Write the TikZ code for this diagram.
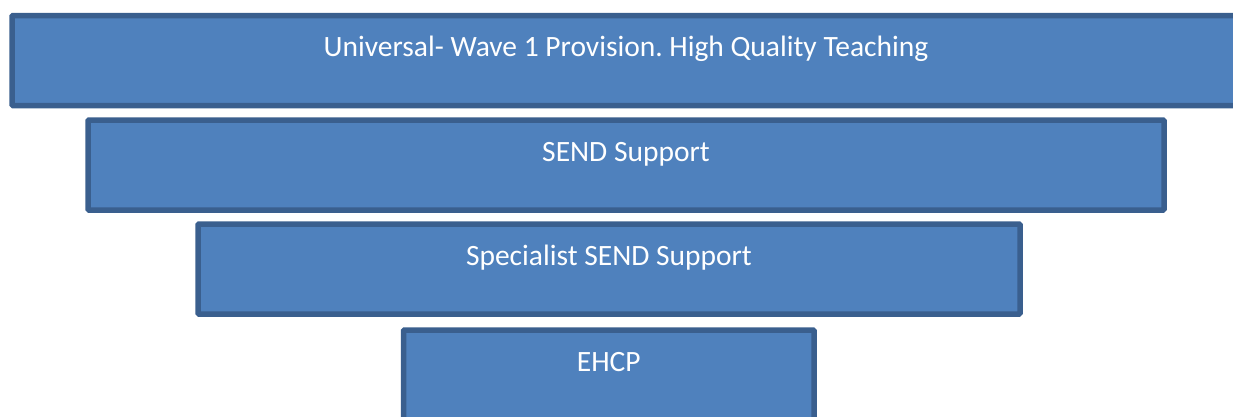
\documentclass[tikz,border=0pt]{standalone}
\usepackage{fontspec}
\setmainfont{Carlito}
\frenchspacing
\definecolor{tierfill}{HTML}{4F81BD}
\definecolor{tierline}{HTML}{3A5F8E}
\tikzset{
    tier/.style={rectangle, draw=tierline, fill=tierfill, line width=5.5pt,
        rounded corners=1pt, anchor=north west, outer sep=0pt, inner ysep=0pt,
        text=white, font=\fontsize{29.5}{33}\selectfont,
        text height=41pt, text depth=49pt}
}
\begin{document}
\begin{tikzpicture}[x=1pt, y=-1pt]
    \useasboundingbox (0,0) rectangle (1233,416);
    \node[tier, minimum width=1228pt, minimum height=90pt] (universal) at (12,15.5) {Universal- Wave 1 Provision. High Quality Teaching};
    \node[tier, minimum width=1076pt, minimum height=89pt] (send) at (88,120) {SEND Support};
    \node[tier, minimum width=822pt, minimum height=89.5pt] (specialist) at (198,224) {Specialist SEND Support};
    \node[tier, minimum width=410.5pt, minimum height=90pt] (ehcp) at (403.5,330) {EHCP};
\end{tikzpicture}
\end{document}
